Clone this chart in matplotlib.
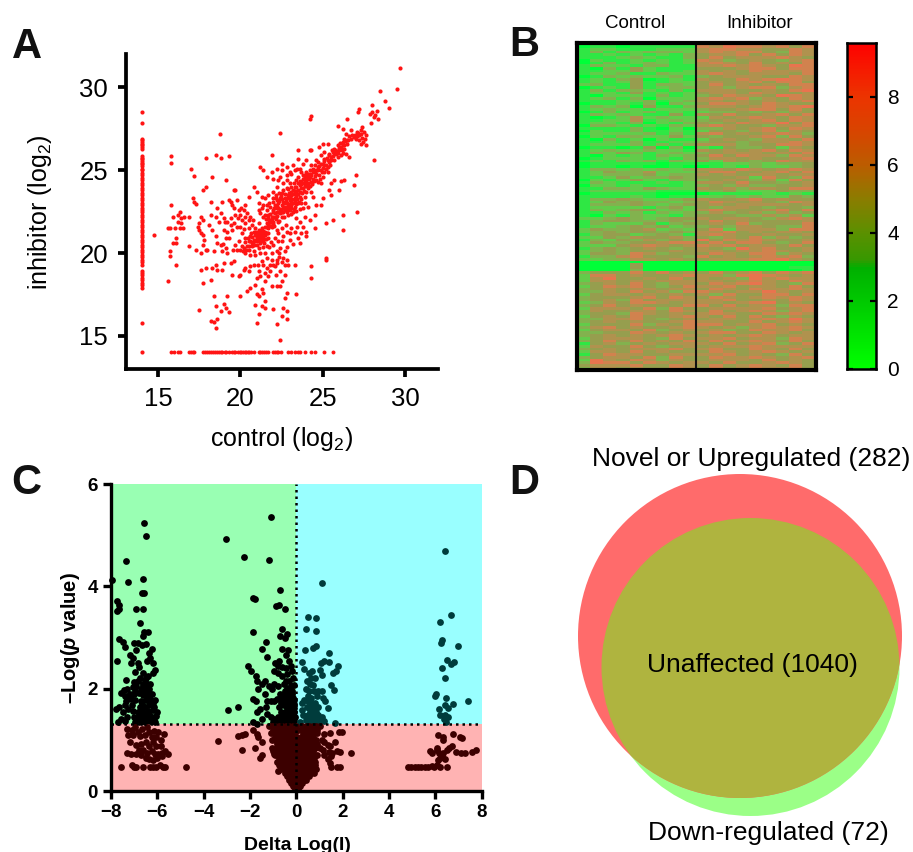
import matplotlib
matplotlib.use("Agg")
import matplotlib.pyplot as plt
from matplotlib.colors import LinearSegmentedColormap
from matplotlib.patches import Circle, Rectangle

plt.rcParams['font.family'] = ['Liberation Sans', 'DejaVu Sans']
plt.rcParams['mathtext.fontset'] = 'custom'
plt.rcParams['mathtext.rm'] = 'Liberation Sans'
plt.rcParams['mathtext.it'] = 'Liberation Sans:italic'
plt.rcParams['mathtext.bf'] = 'Liberation Sans:bold'
plt.rcParams['mathtext.bfit'] = 'Liberation Sans:italic:bold'

W, H = 913, 852

# ---------- Panel A: values ----------
A_left_strip_y = [28.5, 27.85, 26.9, 26.8, 26.7, 26.6, 26.5, 26.4, 26.3, 25.85, 25.75, 25.65, 25.55, 25.45, 25.35,
                  25.25, 25.1, 25.0, 24.85, 24.7, 24.55, 24.4, 24.25, 24.1, 23.95, 23.8, 23.65, 23.5, 23.35, 23.2,
                  23.05, 22.9, 22.75, 22.6, 22.45, 22.3, 22.15, 22.0, 21.85, 21.7, 21.55, 21.4, 21.25, 21.1, 20.95,
                  20.8, 20.65, 20.5, 20.35, 20.2, 20.05, 19.9, 19.75, 19.6, 19.45, 19.3, 18.9, 18.8, 18.65, 18.5,
                  18.35, 18.2, 18.05, 17.9, 15.75, 14.0]
A_bottom_strip_x = [15.8, 15.95, 16.2, 16.3, 16.9, 17.0, 17.1, 17.2, 17.7, 17.85, 18.0, 18.1, 18.2, 18.35, 18.45, 18.55,
                    18.7, 18.8, 18.9, 19.05, 19.15, 19.3, 19.5, 19.6, 19.7, 19.85, 19.95, 20.05, 20.15, 20.25, 20.35,
                    20.45, 20.55, 20.65, 20.8, 21.1, 21.2, 21.3, 21.45, 21.55, 21.65, 22.0, 22.1, 22.2, 22.3, 22.45,
                    22.9, 23.05, 23.3, 23.5, 23.6, 23.9, 24.3, 24.5, 25.1, 25.65]
A_cloud = [
 (29.7,31.2),(28.5,29.8),(29.5,29.9),(28.8,29.2),(29.0,28.75),(28.0,28.95),(27.2,28.7),(27.15,28.5),(28.0,28.5),
 (27.85,28.4),(28.3,28.6),(28.1,28.2),(28.2,28.35),(28.35,28.1),(27.95,27.85),(26.45,28.1),(24.3,28.3),(24.2,28.1),
 (22.4,27.25),(25.9,27.65),(26.2,27.5),(26.7,27.4),(27.3,27.4),(27.4,27.6),(27.5,27.3),(27.35,27.2),(27.2,27.15),
 (27.1,27.05),(26.9,27.0),(27.0,26.9),(27.2,26.85),(27.4,26.95),(27.55,26.9),(27.6,27.1),(27.45,26.7),(27.6,26.55),
 (27.3,26.6),(27.15,27.25),(26.6,27.05),(26.4,27.2),(26.3,26.9),(26.5,26.6),(26.2,26.7),(26.1,26.4),(26.3,26.3),
 (25.9,26.5),(26.0,26.2),(25.7,26.3),(25.8,26.0),(25.6,26.1),(25.5,25.8),(25.4,26.0),(25.9,25.8),(26.1,25.95),
 (26.25,26.05),(26.4,26.0),(26.6,25.8),(25.7,25.6),(25.4,25.5),(25.2,25.3),(25.3,25.6),(25.1,25.7),(25.0,25.35),
 (24.9,25.9),(25.1,26.1),(25.0,26.6),(25.3,26.6),(24.8,26.4),(24.3,26.25),(24.2,26.2),(23.5,26.2),(23.5,25.7),
 (24.0,25.6),(24.3,25.3),(24.6,25.6),(24.7,25.2),(24.6,25.0),(24.9,25.0),(25.0,24.6),(25.3,24.9),(25.5,24.2),
 (25.7,24.4),(26.1,24.35),(26.3,24.4),(26.0,23.8),(25.4,23.8),(25.5,23.5),(26.9,24.1),(27.0,24.7),(27.1,22.5),
 (28.1,25.6),(26.2,22.3),(26.2,21.4),(25.6,22.0),(25.2,21.8),(25.2,19.7),(25.2,19.6),(24.3,19.2),(24.3,18.5),
 (24.5,21.5),(24.0,21.3),(25.0,23.3),(24.9,22.9),(24.6,22.9),(24.4,23.4),(24.1,22.8),(24.9,24.2),(24.7,24.3),
 (24.4,24.5),(24.5,24.9),(24.2,24.8),(24.3,24.3),(24.1,24.6),(24.0,24.2),(24.0,24.9),(23.8,24.5),(23.9,24.7),
 (23.7,24.3),(23.7,24.9),(23.5,24.6),(23.6,24.1),(23.4,24.4),(23.3,24.0),(23.5,23.8),(23.8,23.9),(24.1,23.9),
 (24.3,23.7),(23.9,23.4),(23.6,23.4),(23.4,23.6),(23.2,23.8),(23.1,23.5),(23.3,23.3),(23.0,23.2),(22.9,23.5),
 (22.8,23.9),(22.7,23.3),(22.5,23.6),(22.6,23.1),(22.4,23.3),(22.3,23.0),(22.2,23.2),(22.0,23.1),(22.1,22.9),
 (22.3,22.7),(22.5,22.9),(22.7,22.8),(22.9,22.9),(23.1,22.9),(23.3,22.8),(23.5,23.0),(23.7,23.0),(23.0,22.6),
 (22.8,22.5),(22.6,22.5),(22.4,22.4),(22.2,22.5),(22.0,22.6),(21.9,22.2),(22.1,22.2),(21.8,22.8),(21.8,21.9),
 (22.0,21.9),(21.7,22.1),(21.6,21.8),(21.9,21.6),(21.7,21.5),(21.5,22.3),(21.3,22.7),(21.1,23.0),(21.1,22.6),
 (21.5,23.3),(21.3,23.4),(21.7,23.5),(22.0,23.7),(22.2,24.0),(22.0,24.5),(21.9,24.9),(21.6,24.6),(21.4,25.0),
 (21.2,25.2),(21.9,25.9),(22.5,25.4),(22.8,25.2),(22.2,25.1),(22.4,24.6),(22.8,24.4),(23.1,24.8),(23.3,25.0),
 (23.6,25.1),(23.8,25.35),(20.8,24.0),(21.0,23.7),(20.5,23.4),(20.3,22.9),(20.0,22.3),(20.1,22.0),(19.9,22.6),
 (20.2,22.6),(20.4,22.4),(20.6,22.2),(20.0,21.6),(20.3,21.8),(20.5,21.5),(20.7,21.7),(20.1,21.2),(20.9,21.5),
 (20.9,21.1),(21.1,21.4),(21.2,21.1),(21.3,20.9),(21.0,20.9),(20.8,20.8),(20.6,21.0),(20.5,20.7),(20.3,20.9),
 (20.4,20.4),(20.2,20.3),(20.7,20.4),(21.0,20.5),(21.2,20.6),(21.4,20.9),(21.5,21.3),(21.7,20.9),(21.3,21.5),
 (21.1,21.8),(21.5,21.6),(22.3,21.9),(22.5,21.5),(22.2,21.4),(22.8,21.3),(23.0,21.2),(23.3,21.3),(23.6,21.9),
 (23.4,22.1),(23.9,22.2),(22.6,21.0),(23.0,20.8),(23.5,20.9),(23.6,20.6),(24.0,21.0),(22.3,20.7),(22.0,20.5),
 (22.4,20.3),(22.7,20.1),(22.2,20.1),(21.9,20.0),(21.6,20.4),(21.5,20.0),(21.2,20.0),(20.9,19.9),(20.6,19.9),
 (20.3,20.0),(20.0,20.2),(19.8,20.2),(21.6,19.7),(21.9,19.6),(22.2,19.6),(22.6,19.7),(22.8,19.6),(22.7,19.3),
 (23.3,19.3),(22.9,19.3),(21.4,19.3),(21.6,19.1),(21.8,18.9),(21.5,18.8),(22.1,19.2),(22.4,18.9),(22.7,18.7),
 (21.2,18.6),(21.0,18.5),(21.1,18.9),(20.6,19.2),(20.3,19.1),(20.2,19.0),(20.0,18.7),(19.9,18.6),(20.5,18.9),
 (19.5,18.7),(19.4,19.4),(19.0,19.4),(18.9,19.0),(18.6,19.0),(18.5,19.3),(19.2,20.0),(19.1,20.3),(18.8,20.5),
 (18.6,20.6),(18.9,20.1),(19.6,19.5),(19.7,20.5),(19.3,20.9),(19.0,21.4),(18.4,20.1),(18.5,21.0),(18.3,21.4),
 (18.5,22.2),(18.2,23.1),(18.2,22.3),(18.8,22.4),(19.0,22.1),(19.2,21.9),(19.4,22.1),(19.6,21.8),(19.8,21.6),
 (19.5,21.4),(19.3,23.2),(19.4,23.1),(19.6,22.7),(19.5,22.9),(19.8,23.2),(19.7,23.8),(19.6,23.8),(18.9,23.1),
 (22.5,25.0),(23.0,24.9),(23.2,25.3),(21.4,21.2),(20.7,20.6),(21.6,22.6),(22.6,24.2),(23.0,24.2),(23.9,23.0),
 (17.5,16.55),(18.2,15.9),(18.4,15.85),(18.5,15.5),(18.6,16.0),(18.5,16.8),(18.4,17.4),(18.8,16.5),(19.0,16.9),
 (19.1,16.7),(19.2,17.4),(19.3,16.45),(20.0,17.4),(20.4,17.7),(20.6,17.9),(20.9,16.85),(21.0,15.8),(21.1,16.3),
 (21.1,17.4),(21.3,17.8),(21.4,17.6),(21.3,16.8),(21.5,16.7),(21.5,17.1),(22.0,16.6),(22.2,15.7),(22.5,16.2),
 (22.6,16.7),(22.8,16.0),(22.8,16.5),(22.7,17.3),(22.8,17.6),(23.4,17.5),(22.4,14.75),(21.0,17.5),(21.9,18.0),
 (22.2,18.0),(22.4,18.0),(21.5,18.3),(20.9,18.1),
 (15.8,25.85),(15.8,25.45),(14.75,21.1),(15.8,22.9),(15.9,22.2),(15.6,21.5),(15.75,21.5),(16.0,21.5),(15.7,20.1),
 (15.75,19.8),(15.9,20.6),(16.1,20.6),(16.1,20.9),(16.1,19.25),(15.6,18.3),(16.3,22.5),(16.2,22.3),(16.4,22.1),
 (16.6,22.2),(16.2,21.9),(16.4,21.8),(16.3,21.5),(16.5,21.5),(16.9,22.2),(17.0,25.1),(17.2,24.65),(17.1,23.3),
 (17.2,23.1),(17.3,22.95),(16.9,20.4),(17.3,20.2),(17.5,21.8),(17.6,22.2),(17.7,22.0),(17.4,21.6),(17.5,21.4),
 (17.6,21.2),(17.7,21.1),(17.8,20.8),(17.7,20.5),(17.9,20.2),(17.6,20.0),(18.0,20.2),(17.6,19.0),(17.9,19.1),
 (17.7,18.2),(18.2,18.4),(18.3,19.1),(17.9,24.0),(17.7,23.8),(17.9,25.75),(18.3,24.6),(18.5,25.95),(18.8,25.75),
 (19.3,25.85),(19.1,24.4),(18.75,27.2),
]
A_dense = [
 (22.05,22.75),(22.15,23.35),(22.25,22.85),(22.35,23.15),(22.45,22.6),(22.45,23.45),(22.55,23.25),(22.6,22.75),(22.65,23.0),
 (22.7,23.55),(22.75,23.15),(22.8,22.65),(22.85,23.3),(22.85,23.05),(22.9,22.75),(22.95,23.65),(23.0,23.4),(23.0,22.95),
 (23.05,23.1),(23.1,23.7),(23.1,22.75),(23.15,23.25),(23.2,23.0),(23.2,23.55),(23.25,22.65),(23.3,23.15),(23.3,23.75),
 (23.35,23.45),(23.4,22.95),(23.4,24.0),(23.45,23.25),(23.5,23.55),(23.5,24.2),(23.55,23.1),(23.6,23.7),(23.6,24.35),
 (23.65,23.95),(23.7,23.25),(23.7,24.15),(23.75,23.6),(23.8,24.25),(23.8,24.7),(23.85,23.75),(23.9,24.05),(23.9,24.4),
 (23.95,24.6),(24.0,23.7),(24.0,24.4),(24.05,24.05),(24.1,24.25),(24.1,24.8),(24.15,24.5),(24.2,24.05),(24.2,24.6),
 (24.25,25.0),(24.3,24.7),(24.35,24.15),(24.4,24.9),(24.4,25.1),(24.45,24.35),(24.5,24.65),(24.55,25.3),(24.6,24.4),
 (24.6,24.8),(24.7,25.0),(24.7,25.5),(24.75,24.7),(24.8,25.25),(24.85,24.5),(24.9,25.4),(24.95,24.9),(25.0,25.15),
 (25.05,25.55),(25.1,24.9),(25.1,25.3),(25.2,25.05),(25.25,25.75),(25.3,25.2),(25.35,25.9),(25.45,25.3),(25.5,25.6),
 (25.55,26.2),(25.6,25.85),(25.7,26.05),(25.75,26.25),(25.85,26.15),(25.95,26.05),(26.0,26.35),(26.05,26.65),(26.15,26.2),
 (26.2,26.5),(26.3,26.55),(26.35,26.75),(26.45,26.8),(26.55,26.85),(26.7,26.9),(26.8,27.1),(26.95,27.15),(27.05,27.3),
 (21.55,22.05),(21.6,21.55),(21.65,22.3),(21.7,21.75),(21.75,22.0),(21.8,21.65),(21.8,22.35),(21.85,21.85),(21.9,22.05),
 (21.95,21.75),(21.95,22.45),(22.0,22.15),(22.05,21.65),(22.1,22.4),(22.15,22.05),(22.2,22.7),(22.25,22.25),(22.3,22.45),
 (22.35,21.95),(22.4,22.65),(22.5,22.2),(22.55,22.45),(22.65,22.2),(22.7,22.6),(22.9,22.3),(23.05,22.35),(23.2,22.45),
 (23.4,22.55),(23.6,22.65),(23.8,22.7),(22.9,23.85),(22.6,23.8),(22.35,23.6),(22.15,23.5),(21.95,23.3),(21.75,23.0),
 (21.6,22.9),(21.4,22.9),(21.2,22.4),(21.35,22.15),(23.05,24.0),(23.25,24.2),(23.45,25.1),(22.85,24.7),(22.3,24.4),
 (20.45,20.9),(20.55,20.45),(20.6,20.75),(20.65,21.2),(20.7,20.95),(20.75,20.65),(20.8,21.25),(20.85,20.5),(20.9,20.7),
 (20.95,21.3),(21.0,21.0),(21.0,20.7),(21.05,21.2),(21.1,20.85),(21.15,21.0),(21.2,21.35),(21.2,20.75),(21.25,21.2),
 (21.3,21.05),(21.35,20.75),(21.35,21.35),(21.4,21.0),(21.45,20.6),(21.5,21.1),(21.55,20.85),(21.6,21.2),(21.7,21.2),
 (20.1,20.45),(20.25,20.65),(20.35,20.2),(20.15,20.1),(20.55,20.2),(20.85,20.15),(21.1,20.3),(21.4,20.35),(21.75,20.35),
 (21.85,20.65),(20.75,22.0),(20.5,22.0),(20.25,22.15),(20.05,22.75),(19.85,22.1),(19.7,22.3),(19.4,21.7),(19.2,21.3),
 (19.1,20.9),(18.95,20.55),(19.55,20.2),(19.9,20.75),(20.2,21.45),(19.05,21.9),(18.7,21.85),(18.6,22.75),(18.1,21.7),
 (22.0,19.3),(22.25,19.4),(22.5,19.45),(22.35,19.75),(21.8,19.3),(21.3,19.5),(21.05,19.3),(20.8,19.3),(21.7,18.6),
 (22.15,18.7),(22.55,18.3),(22.35,20.0),(22.1,20.9),(22.5,20.7),(22.85,20.35),(23.2,20.55),(23.05,21.5),(23.45,21.55),
 (23.8,21.6),(24.2,22.0),(24.5,22.3),(23.7,21.2),(22.3,21.2),(22.75,21.7),
]

# ---------- Panel B: heat map rows (one digit per cell, control + inhibitor) ----------
B_rows = """
011000111 676665556
011011111 657665646
122111222 566554465
131323332 565664365
112121213 455646465
111232113 464555654
021121212 653454356
013123212 565464546
132213311 556565476
103142111 444566466
112242112 545465556
122311322 565455546
013232231 345554465
121340121 544656765
121241122 454564664
231141332 464545466
012141233 453566356
131332131 555445467
122141212 455465445
102221312 346554765
123130222 565635465
111223123 554545456
011213032 466546544
132304113 555456567
123221222 344566464
013123121 233434354
132321141 546445646
101252322 254565465
112251232 345456465
122130213 434655746
033212132 565443556
111131020 335456465
021131121 244356354
122223131 564545653
021332242 434456364
103120211 245435546
112131122 344345565
122231313 555344665
011014030 214334254
123223221 545456465
132431232 345554546
102121323 464655365
012221213 355454456
121323132 425434655
011111011 112232334
011010010 012132234
133232323 554654565
124335222 466445646
123334233 545455455
112423343 444526436
021242133 345435264
132111212 554644345
022121112 343533445
113324322 545355466
122222111 334222433
011111000 011112121
111121011 223232243
133432234 544564544
124343323 465454365
133343234 454555545
122221342 435543443
132344232 565445646
113231323 353453534
102132213 444335352
223432344 545543565
134433343 464544445
132224134 454634446
122343423 343554336
243345232 462555366
234344343 556454554
134423431 565445445
224354453 435463534
132435343 746565445
243344566 464664346
222456545 656455464
134345434 543756445
234344454 554556545
244365344 465466354
133564443 645456563
223355454 455566754
000000000 000000000
000040000 000000000
000040000 000000011
000030000 000000001
344464645 464564656
266454456 553676545
257445464 545375655
255454555 554565465
345464355 465675436
246564346 556455464
345455455 465465565
335464536 654557545
245545454 536446646
344456465 465456565
345364555 556445465
235466545 554567454
346454446 646455366
255546364 455556456
354455465 464565356
344365454 565446565
245464456 546464354
335564345 455456575
345454456 554464565
244463546 664556454
356454456 545356565
245546345 453465564
334465454 566446545
345454565 454565455
245554364 556455365
346464546 464565464
145345455 546456346
254464345 455565555
345455564 564465464
255464544 465456545
146554455 556454364
345546364 465565456
275465354 455546454
376646545 546445654
455564465 464565464
355454465 464565564
"""
B_columns = 18
B_vmax = 9.6
B_colorbar_ticks = [0, 2, 4, 6, 8]

# ---------- Panel C: volcano points ----------
C_left = [
 (-6.56,5.24),(-6.49,4.98),(-7.34,4.49),(-7.25,4.09),(-6.63,4.15),(-6.57,3.87),(-6.67,3.86),(-7.96,4.12),(-7.75,3.71),
 (-7.67,3.63),(-7.65,3.55),(-7.75,3.52),(-6.9,3.56),(-6.6,3.55),(-6.76,3.29),(-6.56,3.11),(-6.4,3.1),(-6.6,3.03),
 (-7.65,2.98),(-7.48,2.92),(-7.41,2.82),(-7.75,2.55),(-7.0,2.9),(-6.85,2.9),(-6.65,2.85),(-6.5,2.87),(-6.9,2.75),
 (-6.25,2.78),(-6.35,2.7),(-6.3,2.6),(-7.2,2.65),(-7.05,2.6),(-7.15,2.5),(-6.45,2.55),(-6.2,2.5),(-6.85,2.5),
 (-6.8,2.42),(-6.95,2.33),(-6.1,2.37),(-6.2,2.3),(-6.4,2.25),(-6.75,2.2),(-6.55,2.17),(-7.35,2.17),(-7.0,2.13),
 (-6.85,2.15),(-6.6,2.1),(-6.45,2.1),(-6.3,2.1),(-7.05,2.03),(-6.9,2.05),(-6.7,2.0),(-6.5,2.0),(-6.35,2.0),
 (-7.45,1.98),(-7.3,2.0),(-7.55,1.92),(-7.2,1.9),(-7.4,1.85),(-7.0,1.9),(-6.8,1.92),(-6.6,1.88),(-6.4,1.9),
 (-6.25,1.9),(-7.35,1.75),(-7.15,1.8),(-6.95,1.78),(-6.7,1.75),(-6.5,1.78),(-6.1,1.78),(-7.4,1.68),(-7.1,1.68),
 (-6.75,1.65),(-6.55,1.65),(-6.35,1.68),(-6.15,1.65),(-7.8,1.6),(-7.65,1.65),(-7.5,1.55),(-7.05,1.57),(-6.85,1.55),
 (-6.65,1.55),(-6.4,1.57),(-6.2,1.58),(-6.0,1.55),(-7.3,1.45),(-7.0,1.45),(-6.8,1.45),(-6.6,1.45),(-6.45,1.47),
 (-6.25,1.45),(-6.05,1.47),(-7.55,1.4),(-7.4,1.37),(-6.95,1.35),(-6.7,1.35),(-6.5,1.36),(-6.3,1.36),(-6.1,1.35),
 (-7.7,1.35),(-6.9,1.4),(-6.15,1.42),(-6.55,1.95),(-6.42,1.8),(-6.65,1.7),(-6.5,1.52),(-6.35,1.5),(-6.75,1.48),
 (-7.25,1.6),(-7.3,1.85),(-6.45,2.0),(-6.6,2.05),(-6.3,1.8),(-6.2,1.72),(-6.95,1.95),(-6.5,2.2),(-6.62,2.3),
 (-3.03,4.93),(-2.24,4.58),(-1.1,5.35),(-1.17,4.52),(-0.72,3.93),(-1.85,3.78),(-1.78,3.75),(-0.77,3.63),(-0.87,3.61),
 (-0.5,3.55),(-1.86,3.1),(-0.62,3.16),(-0.7,3.03),(-0.4,3.07),(-0.5,3.0),(-1.3,2.91),(-1.47,2.78),(-1.27,2.61),
 (-0.6,2.77),(-0.35,2.75),(-0.45,2.65),(-2.93,1.58),(-2.52,1.65),(-2.1,2.45),(-1.95,2.35),(-1.75,2.25),(-1.7,2.15),
 (-1.35,2.15),(-1.5,2.1),(-1.65,2.0),(-1.2,2.05),(-1.05,2.0),(-0.95,2.1),(-1.35,1.9),(-1.85,1.8),(-1.75,1.75),
 (-1.25,1.75),(-1.1,1.75),(-0.95,1.75),(-0.85,1.8),(-1.7,1.55),(-1.55,1.6),(-1.3,1.65),(-1.85,1.35),(-1.7,1.3),
 (-1.5,1.4),(-1.25,1.5),(-1.1,1.45),(-0.95,1.4),(-0.9,2.5),(-0.8,2.45),(-0.75,2.55),(-0.6,2.42),(-0.45,2.4),
 (-0.3,2.55),(-0.25,2.45),(-0.95,2.35),(-0.8,2.3),(-0.6,2.25),(-0.4,2.28),(-0.2,2.35),(-0.15,2.2),(-0.8,2.05),
 (-0.55,2.1),(-0.45,2.15),(-0.3,2.15),(-0.1,2.08),(-0.7,1.9),(-0.5,1.95),(-0.35,1.98),(-0.2,1.95),(-0.6,1.8),
 (-0.45,1.82),(-0.3,1.85),(-0.15,1.82),(-0.75,1.65),(-0.55,1.68),(-0.4,1.7),(-0.25,1.72),(-0.1,1.7),(-0.65,1.55),
 (-0.5,1.55),(-0.35,1.58),(-0.2,1.6),(-0.08,1.55),(-0.8,1.45),(-0.6,1.45),(-0.45,1.45),(-0.3,1.47),(-0.15,1.47),
 (-0.05,1.45),(-1.0,1.35),(-0.8,1.35),(-0.65,1.36),(-0.5,1.35),(-0.35,1.35),(-0.2,1.36),(-0.08,1.36),
 (-0.42,1.62),(-0.28,1.62),(-0.12,1.62),(-0.52,1.75),(-0.38,1.78),(-0.22,1.78),(-0.08,1.78),(-0.42,1.5),(-0.22,1.52),
 (-0.55,1.4),(-0.38,1.42),(-0.22,1.42),(-0.1,1.42),(-0.65,1.72),(-0.5,1.88),(-0.32,1.9),(-0.18,1.9),(-0.42,2.02),(-0.25,2.05),
]
C_right = [
 (1.1,4.07),(6.43,4.7),(0.49,3.4),(0.84,3.39),(0.42,3.16),(0.85,3.13),(0.39,2.75),(0.72,2.8),(0.86,2.83),(1.43,2.69),
 (0.23,2.53),(1.07,2.51),(1.18,2.55),(1.43,2.53),(1.79,2.45),(1.69,2.35),(1.57,2.3),(0.32,2.39),(1.0,2.36),(1.1,2.26),
 (1.51,2.07),(1.63,1.97),(0.55,2.3),(0.68,2.35),(0.62,2.2),(0.8,2.2),(0.45,2.15),(0.58,2.1),(0.72,2.08),(0.4,2.0),
 (0.55,1.95),(0.75,1.95),(0.95,1.95),(1.1,1.95),(0.5,1.85),(0.65,1.82),(0.9,1.85),(1.15,1.82),(0.35,1.78),(0.6,1.72),
 (0.8,1.72),(1.25,1.75),(0.25,1.72),(0.45,1.65),(0.7,1.62),(0.95,1.65),(1.35,1.63),(0.25,1.58),(0.6,1.55),(0.85,1.55),
 (0.3,1.48),(0.5,1.48),(0.7,1.45),(0.95,1.48),(1.1,1.45),(0.4,1.38),(0.6,1.36),(0.8,1.36),(1.0,1.37),(1.2,1.36),
 (0.15,1.35),(1.65,1.33),(0.5,1.75),(0.55,1.62),(0.65,1.5),(0.75,1.4),(0.9,1.42),(0.52,1.42),
 (6.67,3.43),(6.21,3.31),(6.3,2.95),(6.25,2.9),(6.96,2.84),(6.51,2.57),(6.8,2.53),(6.67,2.49),(6.28,2.41),(6.41,2.21),
 (6.01,1.89),(5.98,1.86),(6.46,1.82),(7.41,1.76),(6.76,1.71),(6.41,1.69),(6.56,1.63),(6.17,1.61),(6.18,1.48),(6.43,1.49),
 (6.56,1.45),(6.37,1.4),(6.44,1.35),
]
C_low_sparse = [
 (6.11,1.09),(6.33,1.06),(6.76,1.12),(7.05,1.06),(7.16,1.04),(6.33,1.0),(6.7,0.88),(6.59,0.84),(6.05,0.85),(5.75,0.78),
 (5.86,0.74),(6.05,0.8),(6.5,0.8),(6.15,0.74),(6.35,0.74),(6.9,0.76),(7.1,0.74),(7.3,0.74),(7.6,0.76),(7.77,0.81),
 (6.1,0.6),(6.2,0.65),(6.3,0.68),(6.4,0.62),(4.8,0.47),(4.95,0.47),(5.1,0.47),(5.25,0.47),(5.4,0.47),(5.55,0.47),(5.7,0.47),
 (5.85,0.48),(5.95,0.47),(6.05,0.5),(6.2,0.47),(6.5,0.47),
 (1.85,1.15),(1.95,1.15),(1.45,1.13),(1.2,1.12),(1.65,0.96),(1.35,0.9),(1.45,0.88),(1.2,0.95),(1.55,0.75),(1.75,0.78),
 (1.9,0.76),(2.35,0.75),(1.4,0.76),(1.5,0.68),(1.2,0.7),(1.35,0.62),(1.45,0.55),(1.5,0.47),(1.75,0.47),(1.9,0.47),
 (1.1,1.0),(1.0,0.85),(1.15,0.8),
 (-7.3,1.22),(-7.25,1.1),(-7.2,0.95),(-7.1,1.2),(-7.05,1.1),(-6.95,1.25),(-6.85,1.15),(-6.75,1.08),(-6.65,1.22),(-6.55,1.1),
 (-6.45,1.25),(-6.35,1.15),(-6.25,1.05),(-6.15,1.18),(-6.05,1.05),(-5.95,1.15),(-5.85,1.0),(-5.7,1.12),(-6.9,0.9),(-6.7,0.92),
 (-6.5,0.95),(-6.35,0.88),(-6.2,0.95),(-6.05,0.88),(-5.85,0.88),(-6.8,0.8),(-6.6,0.8),(-6.45,0.75),(-6.25,0.78),(-6.1,0.72),
 (-5.95,0.72),(-5.8,0.75),(-5.65,0.78),(-5.55,0.72),(-7.3,0.74),(-7.15,0.72),(-6.9,0.72),(-6.7,0.7),(-6.5,0.65),(-6.35,0.62),
 (-6.2,0.6),(-6.0,0.65),(-5.8,0.68),(-7.55,0.47),(-7.1,0.5),(-7.0,0.47),(-6.9,0.47),(-6.6,0.47),(-6.3,0.47),(-6.2,0.47),
 (-6.05,0.47),(-5.9,0.5),(-5.75,0.47),(-5.65,0.47),(-4.78,0.47),(-3.4,0.97),
 (-2.5,1.08),(-2.35,1.1),(-2.2,1.12),(-2.35,0.8),(-1.85,1.2),(-1.7,1.12),(-1.65,1.05),(-1.5,0.95),(-1.8,0.85),(-1.5,0.7),
 (-1.55,0.65),(-1.0,0.78),(-0.95,0.72),(-0.8,0.4),(-0.75,0.5),
]
C_low_dense_rows = [
 (1.27, [-1.2, -1.05, -0.9, -0.75, -0.6, -0.45, -0.3, -0.15, 0.0, 0.25, 0.4, 0.55, 0.7, 0.85, 1.0]),
 (1.2, [-1.0, -0.85, -0.7, -0.55, -0.4, -0.25, -0.1, 0.05, 0.3, 0.45, 0.6, 0.75, 0.9]),
 (1.13, [-1.1, -0.95, -0.8, -0.65, -0.5, -0.35, -0.2, -0.05, 0.3, 0.45, 0.6, 0.75, 0.9]),
 (1.06, [-0.9, -0.75, -0.6, -0.45, -0.3, -0.15, 0.0, 0.2, 0.4, 0.55, 0.7]),
 (0.99, [-1.05, -0.9, -0.75, -0.6, -0.45, -0.3, -0.15, 0.0, 0.15, 0.35, 0.5, 0.65, 0.85]),
 (0.92, [-0.85, -0.7, -0.55, -0.4, -0.25, -0.1, 0.05, 0.2, 0.4, 0.55, 0.75, 0.9]),
 (0.85, [-1.05, -0.85, -0.7, -0.55, -0.4, -0.25, -0.1, 0.05, 0.2, 0.35, 0.5, 0.65, 0.8]),
 (0.78, [-0.8, -0.65, -0.5, -0.35, -0.2, -0.05, 0.1, 0.25, 0.4, 0.55, 0.7]),
 (0.71, [-0.9, -0.75, -0.6, -0.45, -0.3, -0.15, 0.0, 0.15, 0.3, 0.45, 0.6, 0.75, 0.9]),
 (0.64, [-0.75, -0.6, -0.45, -0.3, -0.15, 0.0, 0.15, 0.3, 0.45, 0.6, 0.75]),
 (0.57, [-0.85, -0.7, -0.55, -0.4, -0.25, -0.1, 0.05, 0.2, 0.35, 0.5, 0.65, 0.8]),
 (0.5, [-0.7, -0.55, -0.4, -0.25, -0.1, 0.05, 0.2, 0.35, 0.5, 0.65, 0.8]),
 (0.43, [-0.65, -0.5, -0.35, -0.2, -0.05, 0.1, 0.25, 0.4, 0.55, 0.7, 0.85]),
 (0.36, [-0.5, -0.38, -0.25, -0.1, 0.05, 0.2, 0.35, 0.5, 0.62, 0.75]),
 (0.29, [-0.42, -0.3, -0.15, 0.0, 0.15, 0.3, 0.45, 0.55]),
 (0.22, [-0.3, -0.18, -0.05, 0.08, 0.2, 0.32, 0.42]),
 (0.15, [-0.22, -0.1, 0.0, 0.12, 0.24]),
 (0.09, [-0.14, -0.04, 0.06, 0.16]),
 (0.04, [-0.05, 0.05]),
]
C_p_threshold = 1.3

# ---------- Panel D: labels and circle geometry in picture units ----------
D_labels = ["Novel or Upregulated (282)", "Unaffected (1040)", "Down-regulated (72)"]
D_up_circle = (740, 636, 162)
D_down_circle = (750.5, 667, 149)


def axes_px(fig, left, top, right, bottom):
    return fig.add_axes([left / W, 1 - bottom / H, (right - left) / W, (bottom - top) / H])


def px_text(fig, x, y, s, **kw):
    kw.setdefault('ha', 'center')
    kw.setdefault('va', 'center')
    return fig.text(x / W, 1 - y / H, s, **kw)


fig = plt.figure(figsize=(W / 100, H / 100), dpi=100, facecolor='white')

for x, y, s in [(26.5, 47, 'A'), (524, 45, 'B'), (26, 483, 'C'), (524, 483, 'D')]:
    px_text(fig, x, y, s, fontsize=30, fontweight='bold', color='#111111')

# ---- A ----
ax = axes_px(fig, 126, 54.3, 438, 369)
ax.set_xlim(13.05, 32)
ax.set_ylim(13, 32)
red = '#ff1414'
ax.scatter([14] * len(A_left_strip_y), A_left_strip_y, s=9, c=red, lw=0)
ax.scatter(A_bottom_strip_x, [14] * len(A_bottom_strip_x), s=8, c=red, lw=0)
ax.scatter([p[0] for p in A_cloud], [p[1] for p in A_cloud], s=9, c=red, lw=0)
ax.scatter([p[0] for p in A_dense], [p[1] for p in A_dense], s=9, c=red, lw=0)
for side in ('top', 'right'):
    ax.spines[side].set_visible(False)
for side in ('left', 'bottom'):
    ax.spines[side].set_linewidth(2.7)
ax.set_xticks([15, 20, 25, 30])
ax.set_yticks([15, 20, 25, 30])
ax.tick_params(width=2.7, length=6, labelsize=18.5, pad=7)
px_text(fig, 282, 439, r'control (log$_2$)', fontsize=18)
px_text(fig, 40, 212, r'inhibitor (log$_2$)', fontsize=18, rotation=90)

# ---- B ----
rows = [r.replace(' ', '') for r in B_rows.strip().splitlines()]
grid = [[int(c) * 1.0 for c in r] for r in rows]
cmap_cells = LinearSegmentedColormap.from_list('cells', [
    (0 / 9.6, '#00ff38'), (1 / 9.6, '#30e644'), (2 / 9.6, '#62cc4a'), (3 / 9.6, '#82b24e'),
    (4 / 9.6, '#969e4e'), (5 / 9.6, '#b0924e'), (6 / 9.6, '#d0824e'), (7 / 9.6, '#e8744e'), (1, '#ff4030')])
ax = axes_px(fig, 576.5, 42.5, 815.5, 369.5)
ax.pcolormesh(grid, cmap=cmap_cells, vmin=0, vmax=B_vmax)
ax.set_xlim(0, B_columns)
ax.set_ylim(len(rows), 0)
ax.axvline(B_columns / 2, color='#111111', lw=1.5)
ax.set_xticks([])
ax.set_yticks([])
for s in ax.spines.values():
    s.set_linewidth(3)
px_text(fig, 635.5, 24, 'Control', fontsize=13.5)
px_text(fig, 759.5, 24, 'Inhibitor', fontsize=13.5)

cmap_bar = LinearSegmentedColormap.from_list('bar', [
    (0, '#00ff00'), (2 / 9.6, '#00c800'), (2.95 / 9.6, '#00b000'), (3.2 / 9.6, '#389800'),
    (4 / 9.6, '#5c9000'), (5 / 9.6, '#8c7c00'), (6 / 9.6, '#bc5c00'), (7 / 9.6, '#d84400'),
    (8 / 9.6, '#ec3400'), (1, '#ff0000')])
levels = [[v / 400 * B_vmax] for v in range(400)]
cax = axes_px(fig, 846.5, 42.5, 876, 368.5)
cax.pcolormesh([0, 1], [i / 400 * B_vmax for i in range(401)], levels, cmap=cmap_bar, vmin=0, vmax=B_vmax)
cax.set_xticks([])
cax.set_yticks(B_colorbar_ticks)
cax.yaxis.tick_right()
cax.tick_params(axis='y', direction='in', left=True, right=True, length=4, width=1.6, labelsize=15, pad=8)
cax.set_ylim(0, B_vmax)
for s in cax.spines.values():
    s.set_linewidth(1.8)

# ---- C ----
ax = axes_px(fig, 111, 484, 481.7, 791)
ax.set_xlim(-8, 8)
ax.set_ylim(0, 6)
ax.add_patch(Rectangle((-8, C_p_threshold), 8, 6 - C_p_threshold, fc='#99ffb3', lw=0, zorder=0))
ax.add_patch(Rectangle((0, C_p_threshold), 8, 6 - C_p_threshold, fc='#99ffff', lw=0, zorder=0))
ax.add_patch(Rectangle((-8, 0), 16, C_p_threshold, fc='#ffb3b3', lw=0, zorder=0))
ms = 24
ax.scatter([p[0] for p in C_left], [p[1] for p in C_left], s=ms, c='#000000', lw=0, zorder=2, clip_on=False)
ax.scatter([p[0] for p in C_right], [p[1] for p in C_right], s=ms, c='#003c3c', lw=0, zorder=2)
low_x = [p[0] for p in C_low_sparse]
low_y = [p[1] for p in C_low_sparse]
for y, xs in C_low_dense_rows:
    low_x += xs
    low_y += [y] * len(xs)
ax.scatter(low_x, low_y, s=ms, c='#3c0000', lw=0, zorder=2)
ax.axhline(C_p_threshold, color='black', lw=1.8, ls=(0, (1, 1.6)), zorder=3)
ax.axvline(0, color='black', lw=1.8, ls=(0, (1, 1.6)), zorder=3)
for side in ('top', 'right'):
    ax.spines[side].set_visible(False)
for side in ('left', 'bottom'):
    ax.spines[side].set_linewidth(2.4)
ax.set_xticks([-8, -6, -4, -2, 0, 2, 4, 6, 8])
ax.set_yticks([0, 2, 4, 6])
ax.tick_params(width=2.4, length=5.5, labelsize=13.5, pad=4)
for lab in ax.get_xticklabels() + ax.get_yticklabels():
    lab.set_fontweight('bold')
px_text(fig, 297, 845, 'Delta Log(I)', fontsize=14, fontweight='bold')
px_text(fig, 70, 638, '\u2013' + r'$\mathbf{Log(}\mathbfit{p}\mathbf{\ value)}$', fontsize=14.5, rotation=90, fontweight='bold')

# ---- D ----
ax = fig.add_axes([0, 0, 1, 1], facecolor='none')
ax.set_xlim(0, W)
ax.set_ylim(H, 0)
ax.axis('off')
ax.set_zorder(-1)
ux, uy, ur = D_up_circle
dx, dy, dr = D_down_circle
ax.add_patch(Circle((dx, dy), dr, fc='#9bff87', lw=0))
ax.add_patch(Circle((ux, uy), ur, fc='#ff6b6b', lw=0))
overlap = Circle((dx, dy), dr, fc='#afb43f', lw=0)
ax.add_patch(overlap)
overlap.set_clip_path(Circle((ux, uy), ur, transform=ax.transData))
px_text(fig, 751.5, 459, D_labels[0], fontsize=19)
px_text(fig, 752, 665, D_labels[1], fontsize=19)
px_text(fig, 768, 833, D_labels[2], fontsize=19)

fig.savefig('out.png', dpi=100)
